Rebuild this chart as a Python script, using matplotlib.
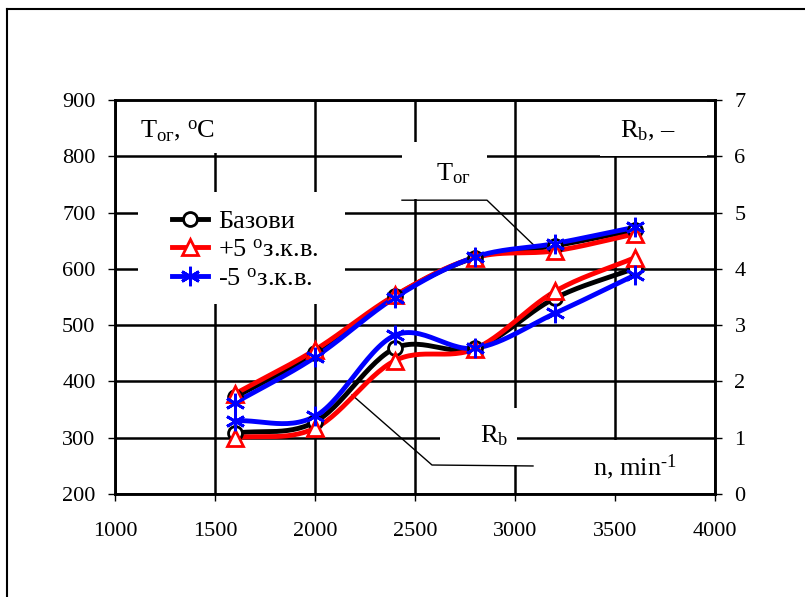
import numpy as np
import matplotlib
matplotlib.use("Agg")
import matplotlib.pyplot as plt
from matplotlib.patches import Rectangle
from matplotlib.lines import Line2D

plt.rcParams['font.family'] = ['Liberation Serif', 'DejaVu Serif']
plt.rcParams['mathtext.fontset'] = 'custom'
plt.rcParams['mathtext.rm'] = 'Liberation Serif'
plt.rcParams['mathtext.it'] = 'Liberation Serif:italic'

# engine speed, min^-1
n = [1600, 2000, 2400, 2800, 3200, 3600]

# exhaust gas temperature, deg C
t_base = [372, 450, 552, 620, 641, 669]
t_plus = [378, 456, 553, 620, 632, 662]
t_minus = [362, 443, 549, 621, 645, 674]

# Rb, -
rb_base = [1.08, 1.28, 2.59, 2.59, 3.48, 4.01]
rb_plus = [1.00, 1.17, 2.37, 2.58, 3.60, 4.20]
rb_minus = [1.30, 1.38, 2.82, 2.59, 3.21, 3.89]

labels = ['Базови', '+5 $^{\\rm o}$з.к.в.', '-5 $^{\\rm o}$з.к.в.']

FS = 16      # tick labels
LS = 19      # labels and legend


def smooth(x, y, sx, sy, steps=30):
    # catmull-rom through the points (excel style smoothed line)
    p = np.column_stack([np.asarray(x, float) * sx, np.asarray(y, float) * sy])
    p = np.vstack([2 * p[0] - p[1], p, 2 * p[-1] - p[-2]])
    out = []
    for i in range(1, len(p) - 2):
        p0, p1, p2, p3 = p[i - 1], p[i], p[i + 1], p[i + 2]
        t = np.linspace(0, 1, steps)[:, None]
        c = 0.5 * ((2 * p1) + (-p0 + p2) * t + (2 * p0 - 5 * p1 + 4 * p2 - p3) * t ** 2
                   + (-p0 + 3 * p1 - 3 * p2 + p3) * t ** 3)
        out.append(c)
    c = np.vstack(out)
    return c[:, 0] / sx, c[:, 1] / sy


fig = plt.figure(figsize=(8.05, 5.97), dpi=100)
ax = fig.add_axes([115 / 805, 1 - 494 / 597, 600 / 805, 394 / 597])
ax2 = ax.twinx()

ax.set_xlim(1000, 4000)
ax.set_ylim(200, 900)
ax2.set_ylim(0, 7)
ax.set_xticks(range(1000, 4001, 500))
ax.set_yticks(range(200, 901, 100))
ax2.set_yticks(range(0, 8))

ax.grid(True, color='black', lw=1.8, zorder=0.5)
ax.set_axisbelow(True)
for a in (ax, ax2):
    for s in a.spines.values():
        s.set_linewidth(1.8)
    a.tick_params(direction='out', length=5, width=1, labelsize=FS, pad=9)
ax.tick_params(axis='x', pad=15)

sx = 600 / 3000.0
sy = 394 / 700.0
sr = 394 / 7.0
styles = [
    dict(color='black', marker='o', ms=10, mfc='white', mec='black', mew=2),
    dict(color='red', marker='^', ms=11, mfc='white', mec='red', mew=2),
    dict(color='blue', marker=(6, 2, 0), ms=14, mec='blue', mew=2),
]

handles = []
for t, st in zip([t_base, t_plus, t_minus], styles):
    xs, ys = smooth(n, t, sx, sy)
    ax.plot(xs, ys, color=st['color'], lw=3.5, zorder=3, solid_capstyle='round')
    ax.plot(n, t, ls='none', zorder=4, **st)
for r, st, lab in zip([rb_base, rb_plus, rb_minus], styles, labels):
    xs, ys = smooth(n, r, sx, sr)
    ax2.plot(xs, ys, color=st['color'], lw=3.5, zorder=3, solid_capstyle='round')
    ax2.plot(n, r, ls='none', zorder=4, **st)
    handles.append(Line2D([], [], lw=3.5, label=lab, **st))

# white boxes under labels (cover the grid)
boxes = [
    (1010, 805, 970, 93),
    (2435, 725, 425, 100),
    (3425, 801, 535, 99),
    (1115, 537, 1035, 200),
    (2625, 252, 385, 101),
    (3090, 202, 895, 94),
]
for bx, by, bw, bh in boxes:
    ax.add_patch(Rectangle((bx, by), bw, bh, facecolor='white', edgecolor='none',
                           zorder=1, clip_on=False))

ax.text(1125, 845, 'T$_{\\rm ог}$, $^{\\rm o}$C', fontsize=LS, va='center', ha='left', zorder=5)
ax.text(3525, 845, 'R$_{\\rm b}$, –', fontsize=LS, va='center', ha='left', zorder=5)
ax.text(2690, 769, 'T$_{\\rm ог}$', fontsize=LS, va='center', ha='center', zorder=5)
ax.text(2898, 303, 'R$_{\\rm b}$', fontsize=LS, va='center', ha='center', zorder=5)
ax.text(3600, 248, 'n, min$^{\\rm \u20101}$', fontsize=LS, va='center', ha='center', zorder=5)

# leader lines
ax.plot([2435, 2860, 3115], [722, 722, 635], color='black', lw=1, zorder=2)
ax2.plot([2185, 2585, 3090], [1.76, 0.515, 0.498], color='black', lw=1, zorder=2.5)

leg = ax2.legend(handles=handles, loc='center left', bbox_to_anchor=(172 / 805, 1 - 250 / 597),
                 bbox_transform=fig.transFigure, frameon=False, fontsize=LS,
                 handlelength=1.36, handletextpad=0.38, labelspacing=0.2,
                 borderpad=0, borderaxespad=0)
leg.set_zorder(6)

# outer frame
fig.add_artist(Line2D([7 / 805, 1], [1 - 9 / 597, 1 - 9 / 597], color='black', lw=1.5))
fig.add_artist(Line2D([7 / 805, 7 / 805], [0, 1 - 9 / 597], color='black', lw=1.5))

fig.savefig('out.png', dpi=100)
